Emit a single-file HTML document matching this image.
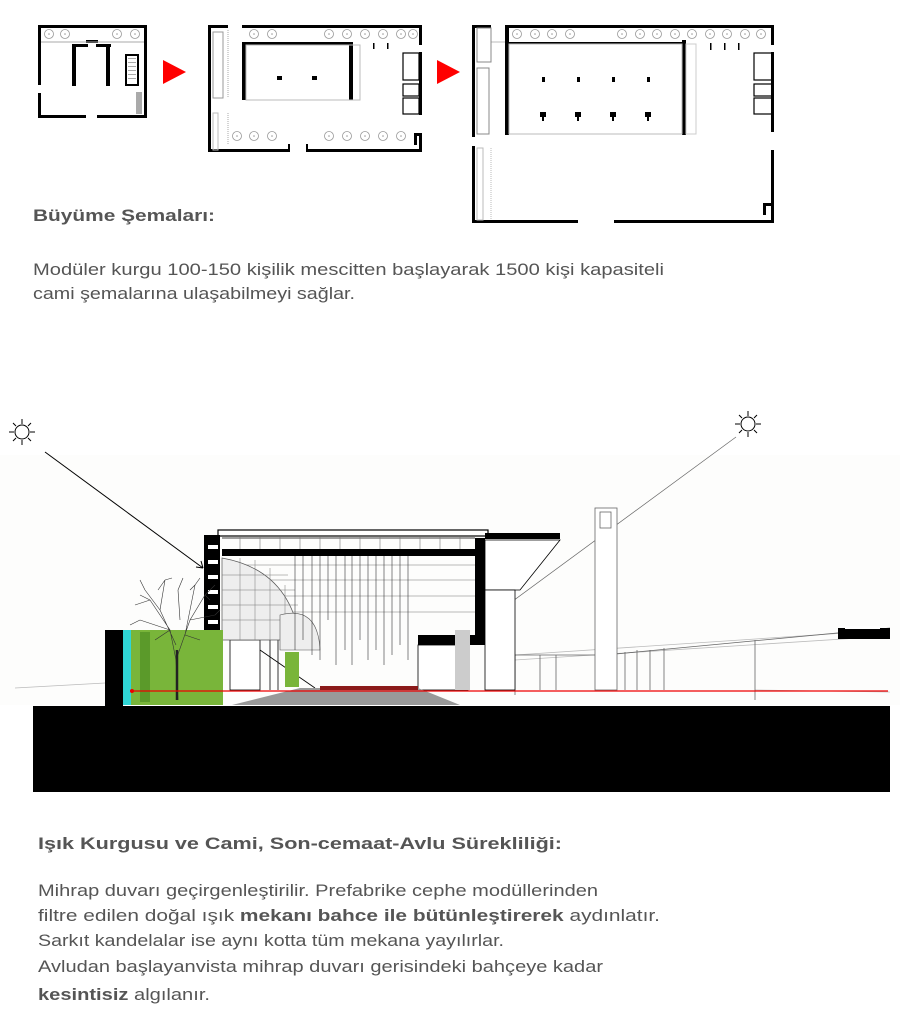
<!DOCTYPE html>
<html><head><meta charset="utf-8"><style>
html,body{margin:0;padding:0;background:#fff;}
svg{display:block;}
</style></head><body>
<svg width="900" height="1024" viewBox="0 0 900 1024" xmlns="http://www.w3.org/2000/svg">
<defs>
<g id="c"><circle r="4.5" fill="none" stroke="#999" stroke-width="0.8"/><circle r="0.8" fill="#999"/></g>
</defs>
<!-- PLAN 1 -->
<g fill="#000">
<rect x="38" y="25" width="109" height="3"/>
<rect x="38" y="25" width="3" height="60"/>
<rect x="38" y="93" width="3" height="25"/>
<rect x="38" y="115" width="48" height="3"/>
<rect x="97" y="115" width="50" height="3"/>
<rect x="144" y="25" width="3" height="93"/>
<rect x="72" y="44" width="4" height="42"/>
<rect x="72" y="44" width="16" height="3"/>
<rect x="96" y="44" width="15" height="3"/>
<rect x="106" y="44" width="4" height="42"/>
<rect x="86" y="40" width="12" height="3"/>
<rect x="126" y="55" width="12" height="30" fill="none" stroke="#000" stroke-width="2"/>
</g>
<line x1="41" y1="42" x2="144" y2="42" stroke="#aaa"/>
<g fill="#aaa"><rect x="128" y="58" width="8" height="1"/><rect x="128" y="62" width="8" height="1"/><rect x="128" y="66" width="8" height="1"/><rect x="128" y="70" width="8" height="1"/><rect x="128" y="74" width="8" height="1"/><rect x="128" y="78" width="8" height="1"/><rect x="136" y="92" width="6" height="22"/></g>
<use href="#c" x="49" y="34"/><use href="#c" x="65" y="34"/><use href="#c" x="117" y="34"/><use href="#c" x="135" y="34"/>
<!-- arrows -->
<polygon points="163,60 186,72 163,84" fill="#f00"/>
<polygon points="437,60 460,72 437,84" fill="#f00"/>
<!-- PLAN 2 -->
<g fill="#000">
<rect x="208" y="25" width="20" height="3"/>
<rect x="242" y="25" width="180" height="3"/>
<rect x="208" y="25" width="3" height="127"/>
<rect x="419" y="25" width="3" height="20"/>
<rect x="419" y="52" width="3" height="63"/>
<rect x="208" y="149" width="81" height="3"/>
<rect x="288" y="144" width="2" height="8"/>
<rect x="306" y="144" width="2" height="8"/>
<rect x="306" y="149" width="116" height="3"/>
<rect x="414" y="133" width="8" height="3"/><rect x="414" y="133" width="3" height="12"/><rect x="419" y="133" width="3" height="19"/>
<rect x="242" y="42" width="4" height="58"/>
<rect x="349" y="42" width="4" height="58"/>
<rect x="242" y="42" width="111" height="3"/>
<rect x="277" y="76" width="5" height="4"/><rect x="312" y="76" width="5" height="4"/>
<rect x="373" y="43" width="1.5" height="6"/><rect x="387" y="43" width="1.5" height="6"/>
</g>
<rect x="246" y="45" width="114" height="55" fill="none" stroke="#bbb"/>
<rect x="403" y="53" width="16" height="27" fill="none" stroke="#000" stroke-width="1.2"/>
<rect x="403" y="84" width="16" height="12" fill="none" stroke="#000" stroke-width="1.2"/>
<rect x="403" y="98" width="16" height="16" fill="none" stroke="#000" stroke-width="1.2"/>
<rect x="213" y="32" width="10" height="66" fill="none" stroke="#999"/>
<rect x="213" y="113" width="5" height="37" fill="none" stroke="#bbb"/>
<line x1="228" y1="113" x2="228" y2="145" stroke="#aaa" stroke-dasharray="1,1"/>
<line x1="228" y1="30" x2="228" y2="98" stroke="#aaa" stroke-dasharray="1,1"/>
<use href="#c" x="254" y="34"/><use href="#c" x="272" y="34"/><use href="#c" x="329" y="34"/><use href="#c" x="347" y="34"/><use href="#c" x="365" y="34"/><use href="#c" x="383" y="34"/><use href="#c" x="401" y="34"/><use href="#c" x="413" y="34"/>
<use href="#c" x="237" y="136"/><use href="#c" x="254" y="136"/><use href="#c" x="272" y="136"/><use href="#c" x="329" y="136"/><use href="#c" x="347" y="136"/><use href="#c" x="365" y="136"/><use href="#c" x="383" y="136"/><use href="#c" x="401" y="136"/>
<!-- PLAN 3 -->
<g fill="#000">
<rect x="472" y="25" width="19" height="3"/>
<rect x="505" y="25" width="269" height="3"/>
<rect x="472" y="25" width="3" height="112"/>
<rect x="472" y="146" width="3" height="77"/>
<rect x="472" y="220" width="106" height="3"/>
<rect x="614" y="220" width="160" height="3"/>
<rect x="771" y="25" width="3" height="20"/>
<rect x="771" y="52" width="3" height="80"/>
<rect x="771" y="150" width="3" height="73"/>
<rect x="763" y="203" width="10" height="3"/><rect x="763" y="203" width="3" height="12"/>
<rect x="505" y="25" width="4" height="110"/>
<rect x="682" y="40" width="4" height="95"/>
<rect x="509" y="42" width="173" height="2"/>
<rect x="542" y="77" width="3" height="5"/><rect x="577" y="77" width="3" height="5"/><rect x="612" y="77" width="3" height="5"/><rect x="647" y="77" width="3" height="5"/>
<rect x="540" y="112" width="6" height="5"/><rect x="575" y="112" width="6" height="5"/><rect x="610" y="112" width="6" height="5"/><rect x="645" y="112" width="6" height="5"/>
<rect x="542" y="116" width="2" height="5"/><rect x="577" y="116" width="2" height="5"/><rect x="612" y="116" width="2" height="5"/><rect x="647" y="116" width="2" height="5"/>
<rect x="710" y="43" width="1.5" height="7"/><rect x="724" y="43" width="1.5" height="7"/><rect x="738" y="43" width="1.5" height="7"/>
</g>
<rect x="509" y="44" width="173" height="90" fill="none" stroke="#bbb"/>
<rect x="686" y="44" width="10" height="90" fill="none" stroke="#ccc"/>
<line x1="491" y1="42" x2="505" y2="42" stroke="#bbb"/>
<rect x="754" y="53" width="18" height="27" fill="none" stroke="#000" stroke-width="1.2"/>
<rect x="754" y="84" width="18" height="12" fill="none" stroke="#000" stroke-width="1.2"/>
<rect x="754" y="98" width="18" height="16" fill="none" stroke="#000" stroke-width="1.2"/>
<rect x="477" y="28" width="14" height="34" fill="none" stroke="#888"/>
<rect x="477" y="68" width="12" height="66" fill="none" stroke="#888"/>
<rect x="477" y="148" width="6" height="72" fill="none" stroke="#bbb"/>
<line x1="491" y1="148" x2="491" y2="220" stroke="#bbb" stroke-dasharray="1,1"/>
<use href="#c" x="517" y="34"/><use href="#c" x="535" y="34"/><use href="#c" x="552" y="34"/><use href="#c" x="570" y="34"/><use href="#c" x="622" y="34"/><use href="#c" x="640" y="34"/><use href="#c" x="657" y="34"/><use href="#c" x="675" y="34"/><use href="#c" x="692" y="34"/><use href="#c" x="710" y="34"/><use href="#c" x="727" y="34"/><use href="#c" x="745" y="34"/><use href="#c" x="761" y="34"/>
<!-- TEXT TOP -->
<g font-family="Liberation Sans, sans-serif" fill="#555">
<text x="33" y="221" font-size="17" font-weight="bold" textLength="182" lengthAdjust="spacingAndGlyphs">Büyüme Şemaları:</text>
<text x="33" y="275" font-size="17" textLength="631" lengthAdjust="spacingAndGlyphs">Modüler kurgu 100-150 kişilik mescitten başlayarak 1500 kişi kapasiteli</text>
<text x="33" y="299" font-size="17" textLength="322" lengthAdjust="spacingAndGlyphs">cami şemalarına ulaşabilmeyi sağlar.</text>
</g>
<!-- SECTION -->
<rect x="0" y="455" width="900" height="250" fill="#fdfdfc"/>
<!-- suns -->
<g stroke="#000" stroke-width="1" fill="none">
<circle cx="22" cy="432" r="7"/>
<path d="M22,419v5M22,440v5M9,432h5M30,432h5M13,423l3,3M28,438l3,3M31,423l-3,3M16,438l-3,3"/>
<circle cx="748" cy="424" r="7"/>
<path d="M748,411v5M748,432v5M735,424h5M756,424h5M739,415l3,3M754,430l3,3M757,415l-3,3M742,430l-3,3"/>
<line x1="45" y1="452" x2="203" y2="568"/>
<path d="M203,568 l-2,-7 M203,568 l-7,-1"/>
<line x1="736" y1="437" x2="487" y2="620" stroke="#666" stroke-width="0.7"/>
</g>
<!-- horizon lines -->
<g stroke="#bbb" stroke-width="0.8">
<line x1="15" y1="688" x2="105" y2="683"/>
<line x1="755" y1="690" x2="890" y2="692"/>
<line x1="515" y1="655" x2="890" y2="630"/>
<line x1="515" y1="660" x2="890" y2="636"/>
</g>
<!-- right canopy and columns -->
<g stroke="#666" stroke-width="0.8" fill="none">
<polyline points="515,655 605,655 890,628"/>
<line x1="540" y1="655" x2="540" y2="690"/><line x1="556" y1="655" x2="556" y2="690"/>
<line x1="625" y1="652" x2="625" y2="690"/><line x1="637" y1="650" x2="637" y2="690"/>
<line x1="650" y1="650" x2="650" y2="690"/><line x1="664" y1="648" x2="664" y2="690"/>
<line x1="755" y1="640" x2="755" y2="700"/>
<rect x="595" y="508" width="22" height="182" fill="#fff"/>
<rect x="600" y="512" width="11" height="16"/>
<line x1="515" y1="655" x2="515" y2="695"/>
</g>
<rect x="838" y="628" width="52" height="11" fill="#000"/>
<rect x="845" y="626" width="35" height="3" fill="#fff"/>
<!-- main building -->
<g stroke="#000" fill="none" stroke-width="0.8">
<rect x="218" y="530" width="270" height="6" fill="#fff" stroke-width="1.2"/>
<line x1="222" y1="538" x2="475" y2="538"/>
<g stroke="#777" stroke-width="0.6">
<line x1="240" y1="537" x2="240" y2="550"/><line x1="260" y1="537" x2="260" y2="550"/><line x1="280" y1="537" x2="280" y2="550"/><line x1="300" y1="537" x2="300" y2="550"/><line x1="320" y1="537" x2="320" y2="550"/><line x1="340" y1="537" x2="340" y2="550"/><line x1="360" y1="537" x2="360" y2="550"/><line x1="380" y1="537" x2="380" y2="550"/><line x1="400" y1="537" x2="400" y2="550"/><line x1="420" y1="537" x2="420" y2="550"/><line x1="440" y1="537" x2="440" y2="550"/><line x1="460" y1="537" x2="460" y2="550"/>
<line x1="225" y1="565" x2="475" y2="565"/><line x1="225" y1="580" x2="475" y2="580"/><line x1="225" y1="596" x2="475" y2="596"/><line x1="225" y1="612" x2="475" y2="612"/>
</g>
<polygon points="485,540 560,540 520,590 485,590" fill="#fff"/>
<rect x="485" y="590" width="30" height="100" fill="#fff"/>
<rect x="230" y="640" width="30" height="50" fill="#fff"/>
<rect x="418" y="645" width="50" height="45" fill="#fff"/>
<line x1="260" y1="650" x2="315" y2="688"/>
<line x1="270" y1="640" x2="270" y2="690"/><line x1="278" y1="640" x2="278" y2="690"/>
</g>
<rect x="485" y="533" width="75" height="6" fill="#000"/>
<rect x="222" y="549" width="253" height="7" fill="#000"/>
<rect x="204" y="535" width="16" height="104" fill="#000"/>
<g fill="#fff"><rect x="208" y="545" width="10" height="4"/><rect x="208" y="560" width="10" height="4"/><rect x="208" y="575" width="10" height="4"/><rect x="208" y="590" width="10" height="4"/><rect x="208" y="605" width="10" height="4"/><rect x="208" y="620" width="10" height="4"/></g>
<rect x="475" y="538" width="10" height="100" fill="#000"/>
<rect x="418" y="635" width="67" height="10" fill="#000"/>
<!-- curved grid facade -->
<path d="M222,558 Q290,570 300,640 L222,640 Z" fill="#eee" stroke="#555" stroke-width="0.7"/>
<path d="M240,558 L240,640 M255,560 L255,640 M270,568 L270,640 M285,585 L285,640 M222,575 H288 M222,590 H295 M222,605 H298 M222,620 H300" stroke="#777" stroke-width="0.5"/>
<path d="M280,615 Q318,605 320,650 L280,650 Z" fill="#eee" stroke="#555" stroke-width="0.6"/>
<!-- pendants -->
<g stroke="#333" stroke-width="0.6">
<line x1="295" y1="556" x2="295" y2="650"/><line x1="303" y1="556" x2="303" y2="640"/><line x1="312" y1="556" x2="312" y2="655"/><line x1="320" y1="556" x2="320" y2="660"/><line x1="328" y1="556" x2="328" y2="620"/><line x1="336" y1="556" x2="336" y2="665"/><line x1="345" y1="556" x2="345" y2="650"/><line x1="352" y1="556" x2="352" y2="665"/><line x1="360" y1="556" x2="360" y2="640"/><line x1="368" y1="556" x2="368" y2="660"/><line x1="376" y1="556" x2="376" y2="650"/><line x1="384" y1="556" x2="384" y2="665"/><line x1="392" y1="556" x2="392" y2="655"/><line x1="400" y1="556" x2="400" y2="645"/><line x1="408" y1="556" x2="408" y2="660"/>
</g>
<!-- green, wall, tree -->
<rect x="123" y="630" width="100" height="75" fill="#79b53a"/>
<rect x="123" y="630" width="8" height="75" fill="#2fd6d6"/>
<rect x="140" y="632" width="10" height="70" fill="#5b9a2a"/>
<rect x="285" y="652" width="14" height="35" fill="#79b53a"/>
<rect x="105" y="630" width="18" height="76" fill="#000"/>
<g stroke="#333" stroke-width="0.6" fill="none">
<path d="M178,700 L176,660 L170,630 L150,600 M176,660 L190,620 L205,595 M170,630 L140,620 M190,620 L215,615 M176,645 L160,610 L165,580 M185,635 L195,585 M150,600 L135,605 M205,595 L215,585 M160,610 L145,590 M165,580 L158,590 M165,580 L172,578 M195,585 L190,590 M195,585 L200,578 M150,600 L140,595 M140,620 L130,625 M215,615 L220,610 M170,630 L155,640 M185,635 L200,640 M180,620 L178,590 M178,590 L183,578 M145,590 L140,580 M205,595 L210,600"/>
</g>
<line x1="177" y1="700" x2="177" y2="650" stroke="#222" stroke-width="2.5"/>
<!-- floor -->
<polygon points="232,705 300,688 418,688 460,705" fill="#999"/>
<rect x="320" y="686" width="98" height="4" fill="#8b1a1a"/>
<line x1="130" y1="691" x2="888" y2="691" stroke="#e00" stroke-width="1.3"/>
<circle cx="132" cy="691" r="2" fill="#e00"/>
<rect x="455" y="630" width="15" height="60" fill="#ccc"/>
<rect x="33" y="706" width="857" height="86" fill="#000"/>
<!-- BOTTOM TEXT -->
<g font-family="Liberation Sans, sans-serif" fill="#555" font-size="17">
<text x="38" y="849" font-weight="bold" textLength="524" lengthAdjust="spacingAndGlyphs">Işık Kurgusu ve Cami, Son-cemaat-Avlu Sürekliliği:</text>
<text x="38" y="896" textLength="560" lengthAdjust="spacingAndGlyphs">Mihrap duvarı geçirgenleştirilir. Prefabrike cephe modüllerinden</text>
<text x="38" y="921" textLength="622" lengthAdjust="spacingAndGlyphs">filtre edilen doğal ışık <tspan font-weight="bold">mekanı bahce ile bütünleştirerek</tspan> aydınlatır.</text>
<text x="38" y="946" textLength="466" lengthAdjust="spacingAndGlyphs">Sarkıt kandelalar ise aynı kotta tüm mekana yayılırlar.</text>
<text x="38" y="972" textLength="565" lengthAdjust="spacingAndGlyphs">Avludan başlayanvista mihrap duvarı gerisindeki bahçeye kadar</text>
<text x="38" y="1000" textLength="172" lengthAdjust="spacingAndGlyphs"><tspan font-weight="bold">kesintisiz</tspan> algılanır.</text>
</g>
</svg>
</body></html>
